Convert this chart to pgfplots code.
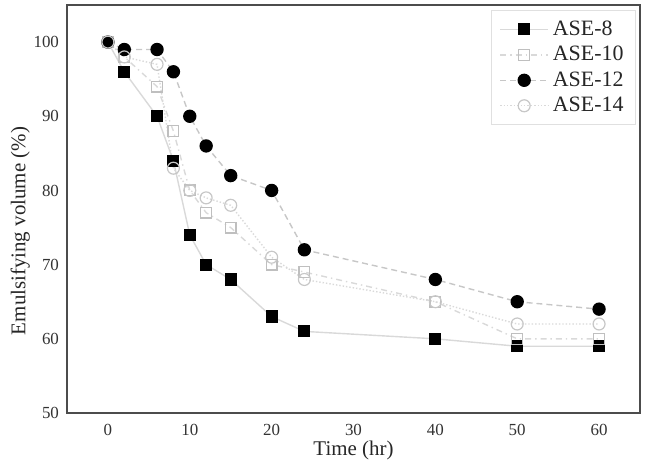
\documentclass[border=0pt]{standalone}
\usepackage{pgfplots}
\pgfplotsset{compat=1.18}
\usepackage{fontspec}
\setmainfont{Liberation Serif}
\begin{document}
\begin{tikzpicture}
\useasboundingbox (-33.5bp,-24bp) rectangle (289.5bp,206.5bp);
\begin{axis}[
  at={(0,0)}, anchor=south west,
  scale only axis, width=286.5bp, height=204bp,
  xmin=-5, xmax=65, ymin=50, ymax=105,
  xtick={0,10,...,60}, ytick={50,60,...,100},
  major tick length=0pt,
  /pgf/number format/assume math mode=true,
  tick label style={font=\fontsize{8.5}{9}\selectfont, text=black!80},
  xticklabel style={yshift=-2bp},
  yticklabel style={xshift=-0.5bp},
  axis line style={draw=black!70, line width=1.1bp},
  xlabel={Time (hr)}, ylabel={Emulsifying volume (\%)},
  label style={font=\fontsize{10.5}{12}\selectfont, text=black!85},
  xlabel style={yshift=4bp},
  ylabel style={yshift=-5bp, xshift=-11bp},
  legend style={at={(1,1)}, anchor=north east, xshift=-2bp, yshift=-2.5bp,
    draw=black!12, line width=0.5bp,
    font=\fontsize{11}{12}\selectfont, text=black!85, row sep=0bp, inner xsep=4bp, inner ysep=3bp},
  legend cell align=left,
  legend image code/.code={\draw[mark repeat=2,mark phase=2] plot coordinates {(0bp,0bp) (12bp,0bp) (24bp,0bp)};},
]
\addplot[black!15, line width=0.7bp, mark=square*, mark size=2.7pt, mark options={solid, fill=black, draw=black}] coordinates {
(0,100) (2,96) (6,90) (8,84) (10,74) (12,70) (15,68) (20,63) (24,61) (40,60) (50,59) (60,59)};
\addlegendentry{ASE-8}
\addplot[black!15, line width=0.7bp, dash dot, mark=square, mark size=2.7pt, mark options={solid, draw=black!25, line width=0.6bp}] coordinates {
(0,100) (2,98) (6,94) (8,88) (10,80) (12,77) (15,75) (20,70) (24,69) (40,65) (50,60) (60,60)};
\addlegendentry{ASE-10}
\addplot[black!22, line width=0.7bp, densely dashed, mark=*, mark size=3pt, mark options={solid, fill=black, draw=black}] coordinates {
(0,100) (2,99) (6,99) (8,96) (10,90) (12,86) (15,82) (20,80) (24,72) (40,68) (50,65) (60,64)};
\addlegendentry{ASE-12}
\addplot[black!15, line width=0.7bp, densely dotted, mark=o, mark size=3pt, mark options={solid, draw=black!22, line width=0.6bp}] coordinates {
(0,100) (2,98) (6,97) (8,83) (10,80) (12,79) (15,78) (20,71) (24,68) (40,65) (50,62) (60,62)};
\addlegendentry{ASE-14}
\end{axis}
\end{tikzpicture}
\end{document}
